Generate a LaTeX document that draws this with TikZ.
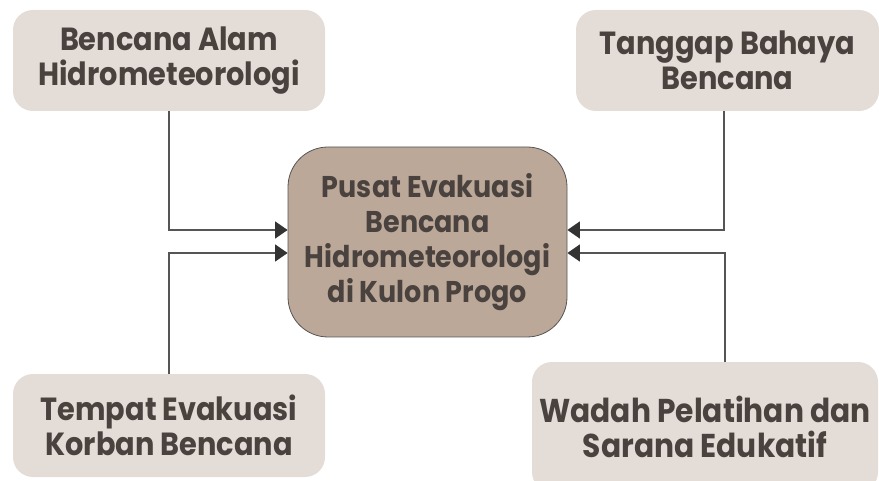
\documentclass[tikz,border=0pt]{standalone}
\usepackage{fontspec}
\setmainfont{Poppins}[FakeStretch=0.9]
\usetikzlibrary{arrows.meta}
\definecolor{boxlight}{HTML}{E4DCD6}
\definecolor{boxmid}{HTML}{BCA898}
\definecolor{txt}{HTML}{4A423E}
\definecolor{linec}{HTML}{555555}
\tikzset{
  side/.style={fill=boxlight, draw=none, rounded corners=20pt, align=center,
    font=\fontsize{32}{35}\selectfont\bfseries, text=txt, inner sep=0pt},
  hub/.style={fill=boxmid, draw=linec, line width=0.8pt, rounded corners=40pt, align=center,
    font=\fontsize{30}{35}\selectfont\bfseries, text=txt, inner sep=0pt,
    minimum width=279pt, minimum height=190pt},
  arr/.style={draw=linec, line width=1.3pt, -{Triangle[length=12.5pt,width=17pt,fill=black!80,color=black!80]}}
}
\begin{document}
\begin{tikzpicture}[x=1pt,y=-1pt]
\useasboundingbox (0,0) rectangle (879,481);
\begin{scope}
\clip (0,0) rectangle (879,481);
\node[side, minimum width=312pt, minimum height=101pt] (tl) at (169,60.5) {Bencana Alam\\Hidrometeorologi};
\node[side, minimum width=303pt, minimum height=101pt] (tr) at (727.5,60.5) {Tanggap Bahaya\\Bencana};
\node[side, minimum width=312pt, minimum height=103pt] (bl) at (169,425.5) {Tempat Evakuasi\\Korban Bencana};
\node[side, minimum width=346pt, minimum height=130pt, font=\fontsize{33}{35}\selectfont\bfseries] (br) at (705,427) {Wadah Pelatihan dan\\Sarana Edukatif};
\node[hub] (c) at (427.5,242) {Pusat Evakuasi\\Bencana\\Hidrometeorologi\\di Kulon Progo};
\draw[arr] (tl.south) |- ([yshift=12pt]c.west);
\draw[arr] (bl.north) |- ([yshift=-11pt]c.west);
\draw[arr] ([xshift=-3.5pt]tr.south) |- ([yshift=12pt]c.east);
\draw[arr] ([xshift=20pt]br.north) |- ([yshift=-11pt]c.east);
\end{scope}
\end{tikzpicture}
\end{document}
